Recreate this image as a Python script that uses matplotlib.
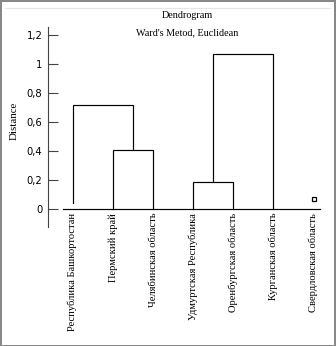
import matplotlib
matplotlib.use("Agg")
import matplotlib.pyplot as plt
from matplotlib.patches import Rectangle
from matplotlib.lines import Line2D

# leaves in dendrogram order
labels = ["Республика Башкортостан", "Пермский край", "Челябинская область",
          "Удмуртская Республика", "Оренбургская область", "Курганская область",
          "Свердловская область"]
leaf_base = [0.04, 0, 0, 0, 0, 0, 0]
# merges: (left node, right node, height); new nodes numbered from len(labels)
merges = [(1, 2, 0.41), (0, 7, 0.72), (3, 4, 0.19), (9, 5, 1.07)]
single_leaf = 6
single_height = 0.07
yticks = [0, 0.2, 0.4, 0.6, 0.8, 1.0, 1.2]
ytick_labels = ["0", "0,2", "0,4", "0,6", "0,8", "1", "1,2"]

W, H = 336, 346
fig = plt.figure(figsize=(W / 100, H / 100), dpi=100)
fig.patch.set_facecolor("white")

# outer frame and faint line at top
fig.add_artist(Rectangle((0.5 / W, 0.5 / H), 1 - 1.5 / W, 1 - 1.5 / H,
                         transform=fig.transFigure, fill=False,
                         edgecolor="#858585", linewidth=1.4))
fig.add_artist(Line2D([5 / W, 330 / W], [1 - 8 / H, 1 - 8 / H],
                      transform=fig.transFigure, color="#e6e6e6", linewidth=0.8))

ax = fig.add_axes([48 / W, 1 - 227 / H, (322 - 48) / W, 200 / H])
ax.set_xlim(-0.616, 6.21)
ax.set_ylim(-0.124, 1.258)

lw = 0.85
x = {i: float(i) for i in range(len(labels))}
h = {i: leaf_base[i] for i in range(len(labels))}
node = len(labels)
for a, b, hh in merges:
    ax.plot([x[a], x[a], x[b], x[b]], [h[a], hh, hh, h[b]], color="black", lw=lw,
            solid_joinstyle="miter")
    x[node] = (x[a] + x[b]) / 2
    h[node] = hh
    node += 1

ax.plot([x[single_leaf]], [single_height], marker="s", ms=3.5, mfc="white",
        mec="black", mew=0.9, ls="none")

# baseline
ax.plot([-0.23, 6.17], [0, 0], color="black", lw=lw)

for s in ["top", "right", "bottom"]:
    ax.spines[s].set_visible(False)
ax.spines["left"].set_linewidth(0.8)
ax.spines["left"].set_color("#444444")
ax.set_yticks(yticks)
ax.set_yticklabels(ytick_labels, fontsize=7.2, family="DejaVu Sans")
ax.tick_params(axis="y", direction="in", length=7, width=0.8, color="#444444", pad=4)
ax.set_xticks([])

for i, lab in enumerate(labels):
    ax.text(i, -0.025, lab, rotation=90, ha="center", va="top",
            fontsize=7.6, family="Liberation Serif")

ax.set_ylabel("Distance", fontsize=7.8, family="Liberation Serif")
ax.yaxis.set_label_coords(-0.106, 0.53)

fig.text(187 / W, 1 - 15 / H, "Dendrogram", ha="center", va="center",
         fontsize=7.3, family="Liberation Serif")
fig.text(187 / W, 1 - 33 / H, "Ward's Metod, Euclidean", ha="center", va="center",
         fontsize=7.3, family="Liberation Serif")

fig.savefig("out.png", dpi=100)
